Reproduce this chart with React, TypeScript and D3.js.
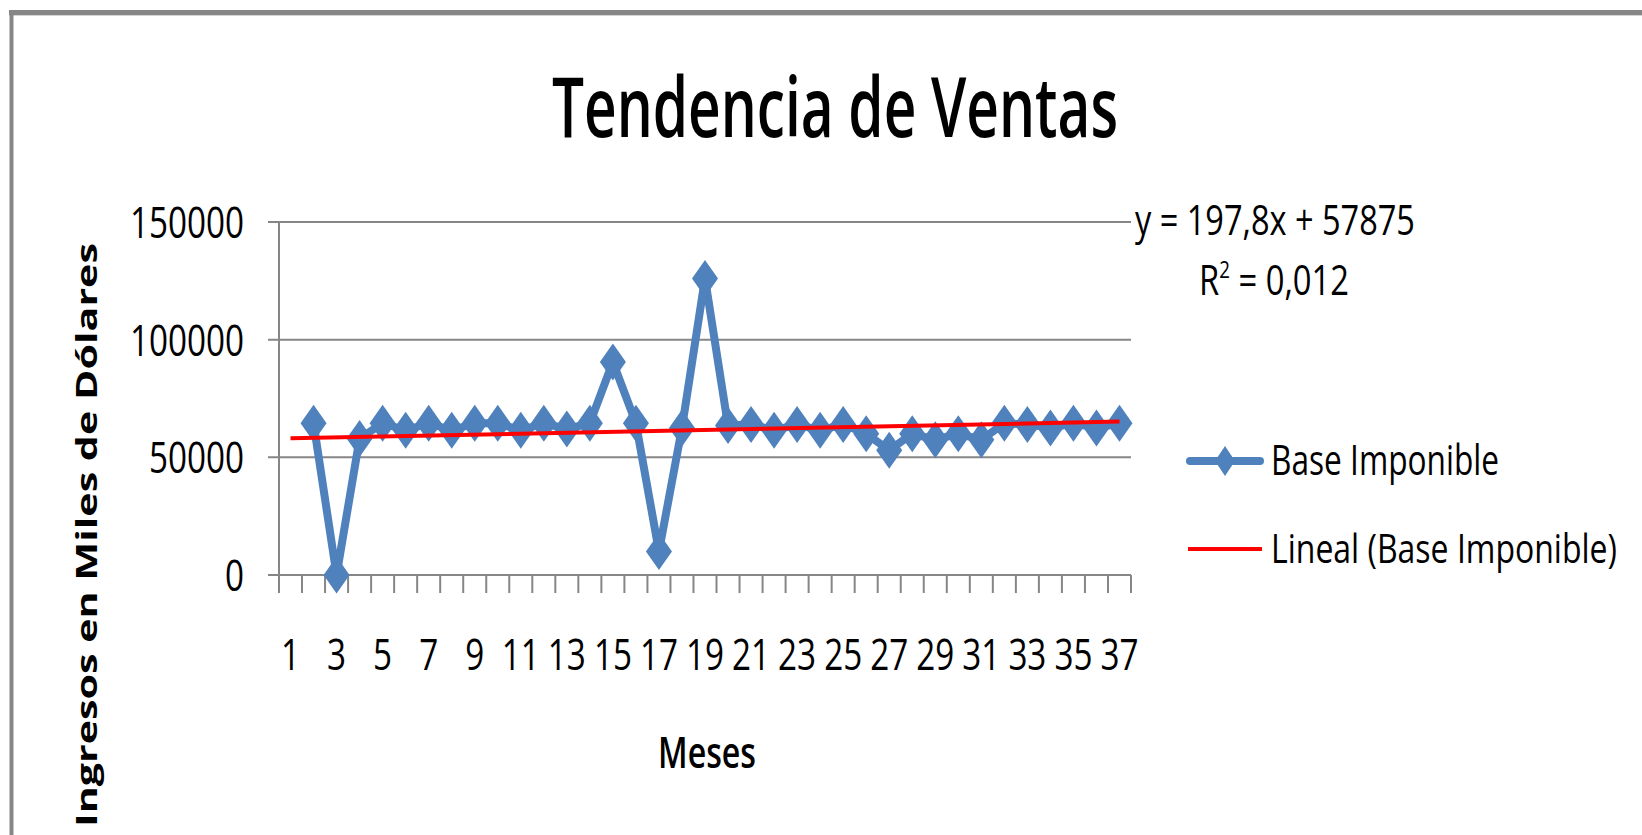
import React, { useLayoutEffect, useRef, useState } from "react";
import * as d3 from "d3";

// meses 1..37, el primer mes no tiene dato
const months = [
  1, 2, 3, 4, 5, 6, 7, 8, 9, 10, 11, 12, 13, 14, 15, 16, 17, 18, 19,
  20, 21, 22, 23, 24, 25, 26, 27, 28, 29, 30, 31, 32, 33, 34, 35, 36, 37,
];
const baseImponible: (number | null)[] = [
  null, 64500, 0, 58000, 64500, 61500, 64500, 61500, 64500, 64500, 61500,
  64500, 62000, 64500, 90500, 64500, 10000, 62500, 126000, 63500, 64000,
  61500, 64000, 61500, 64000, 60000, 53000, 60000, 57500, 60000, 57500,
  64500, 64000, 62500, 64500, 62500, 64500,
];
const monthLabels = [1, 3, 5, 7, 9, 11, 13, 15, 17, 19, 21, 23, 25, 27, 29, 31, 33, 35, 37];
const yTicks = [0, 50000, 100000, 150000];
const trendSlope = 197.8;
const trendIntercept = 57875;

const chartTitle = "Tendencia de Ventas";
const xTitle = "Meses";
const yTitle = "Ingresos en Miles de Dólares";
const seriesName = "Base Imponible";
const trendName = "Lineal (Base Imponible)";

const W = 1642;
const H = 835;
const plot = { left: 279, right: 1131, top: 222, bottom: 575 };
const blue = "#4f81bd";
const grid = "#868686";
const font = "'Open Sans', 'DejaVu Sans', sans-serif";

const diamond = (cx: number, cy: number, hw: number, hh: number) =>
  `M${cx},${cy - hh}L${cx + hw},${cy}L${cx},${cy + hh}L${cx - hw},${cy}Z`;

// texto estrechado horizontalmente hasta el ancho medido en la imagen
function T({ x, y, len, size, weight, rotate, children }: any) {
  const ref = useRef<SVGTextElement>(null);
  const [sx, setSx] = useState(1);
  useLayoutEffect(() => {
    const fit = () => {
      if (!ref.current) return;
      const w = ref.current.getComputedTextLength();
      if (w > 0) setSx(len / w);
    };
    fit();
    (document as any).fonts?.ready.then(fit);
  }, [len, size]);
  const tr = `translate(${x},${y})${rotate ? ` rotate(${rotate})` : ""} scale(${sx},1)`;
  return (
    <text
      ref={ref}
      transform={tr}
      fontSize={size}
      fontWeight={weight || 400}
      fontFamily={font}
      fill="#000"
    >
      {children}
    </text>
  );
}

export default function App() {
  const x = d3
    .scaleBand<number>()
    .domain(months)
    .range([plot.left, plot.right])
    .padding(0);
  const cx = (m: number) => (x(m) as number) + x.bandwidth() / 2;
  const y = d3.scaleLinear().domain([0, 150000]).range([plot.bottom, plot.top]);

  const pts = months
    .map((m, i) => ({ m, v: baseImponible[i] }))
    .filter((d) => d.v !== null) as { m: number; v: number }[];

  const line = d3
    .line<{ m: number; v: number }>()
    .x((d) => cx(d.m))
    .y((d) => y(d.v));

  const first = months[0];
  const last = months[months.length - 1];
  const trend = d3
    .line<number>()
    .x((m) => cx(m))
    .y((m) => y(trendSlope * m + trendIntercept));

  const boundaries = [...months.map((m) => x(m) as number), plot.right];

  return (
    <svg
      width={W}
      height={H}
      style={{ position: "absolute", left: 0, top: 0, background: "#fff" }}
    >
      {/* marco */}
      <line x1={9} x2={W} y1={12.5} y2={12.5} stroke={grid} strokeWidth={5} />
      <line x1={9} x2={W} y1={15.5} y2={15.5} stroke="#d4d4d4" strokeWidth={1} />
      <line x1={11.5} x2={11.5} y1={10} y2={H} stroke={grid} strokeWidth={4} />

      <T x={552} y={137} len={566} size={83} weight={600}>
        {chartTitle}
      </T>

      {/* rejilla y eje y */}
      {yTicks.map((t) => (
        <g key={t}>
          <line x1={plot.left - 11} x2={plot.right} y1={y(t)} y2={y(t)} stroke={grid} strokeWidth={2} />
          <T x={244 - String(t).length * 19} y={y(t) + 16} len={String(t).length * 19} size={43}>
            {t}
          </T>
        </g>
      ))}
      <line x1={plot.left} x2={plot.left} y1={plot.top} y2={plot.bottom + 18} stroke={grid} strokeWidth={2} />
      {boundaries.map((b, i) => (
        <line key={i} x1={b} x2={b} y1={plot.bottom} y2={plot.bottom + 18} stroke={grid} strokeWidth={2} />
      ))}

      {monthLabels.map((m) => {
        const len = String(m).length * 19;
        return (
          <T key={m} x={cx(m) - len / 2} y={670} len={len} size={44}>
            {m}
          </T>
        );
      })}

      <T x={658} y={768} len={98} size={43} weight={600}>
        {xTitle}
      </T>
      <T x={97} y={827} rotate={-90} len={584} size={28} weight={700}>
        {yTitle}
      </T>

      {/* serie */}
      <path d={line(pts) as string} fill="none" stroke={blue} strokeWidth={8} strokeLinejoin="round" />
      {pts.map((d) => (
        <path key={d.m} d={diamond(cx(d.m), y(d.v), 13, 18.5)} fill={blue} />
      ))}
      <path d={trend([first, last]) as string} fill="none" stroke="#ff0000" strokeWidth={4} />

      {/* ecuación de tendencia */}
      <T x={1135} y={235} len={280} size={42}>
        y = 197,8x + 57875
      </T>
      <T x={1199} y={295} len={150} size={42}>
        R
        <tspan dy={-17} fontSize={24}>2</tspan>
        <tspan dy={17}> = 0,012</tspan>
      </T>

      {/* leyenda */}
      <line x1={1190} x2={1260} y1={461} y2={461} stroke={blue} strokeWidth={8} strokeLinecap="round" />
      <path d={diamond(1225, 461, 10, 15)} fill={blue} />
      <T x={1271} y={475} len={228} size={42}>
        {seriesName}
      </T>
      <line x1={1188} x2={1262} y1={549} y2={549} stroke="#ff0000" strokeWidth={4} />
      <T x={1271} y={563} len={346} size={41}>
        {trendName}
      </T>
    </svg>
  );
}
